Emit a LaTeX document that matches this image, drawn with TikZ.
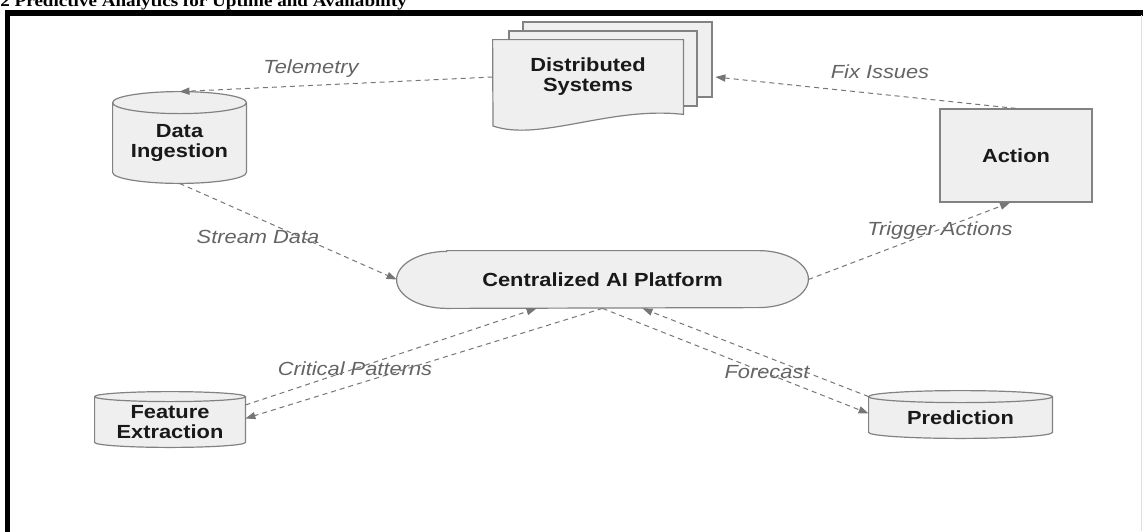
\documentclass[tikz,border=0pt]{standalone}
\usepackage{fontspec}
\usetikzlibrary{arrows.meta,calc,backgrounds}

\newfontfamily\boxfont[FakeStretch=1.15]{Liberation Sans}
\newfontfamily\titlefont[FakeStretch=1.15]{Liberation Serif}

\definecolor{boxfill}{RGB}{239,239,239}
\definecolor{boxedge}{RGB}{130,130,130}
\definecolor{flowgrey}{RGB}{118,118,118}
\definecolor{labelgrey}{RGB}{100,100,100}

\tikzset{
    box/.style={font=\boxfont\bfseries\fontsize{9.5}{10}\selectfont, align=center, inner sep=0pt, text=black!90},
    boxline/.style={draw=boxedge, fill=boxfill, line width=.6pt},
    lbl/.style={font=\boxfont\itshape\fontsize{9.5}{10}\selectfont, text=labelgrey, inner sep=0pt},
    flow/.style={draw=flowgrey, line width=.5pt, dash pattern=on 2.5pt off 2pt,
        -{Triangle[length=5pt, width=3.6pt, fill=flowgrey]}}
}

% cylinder round a node: top cap centred on its north side, bottom on its south side
% #1 node, #2 radius of the end caps
\newcommand\drawcyl[2]{%
    \draw[boxline] let \p1=(#1.north west), \p2=(#1.south east), \n1={(\x2-\x1)/2} in
        (\p1) -- (\x1,{\y2+#2}) arc[start angle=180, end angle=360, x radius=\n1, y radius=#2]
        -- (\x2,\y1) arc[start angle=0, end angle=180, x radius=\n1, y radius=#2] -- cycle
        (\p1) arc[start angle=180, end angle=360, x radius=\n1, y radius=#2];
}

\begin{document}
\begin{tikzpicture}[x=0.5pt, y=-0.5pt]

    \useasboundingbox (0,0) rectangle (1143,531);

    \node[anchor=base west, inner sep=0pt, font=\titlefont\bfseries\fontsize{8.3}{10}\selectfont]
        (title) at (0,6.5) {2 Predictive Analytics for Uptime and Availability};
    \draw[line width=2.7pt] (7.5,545) -- (7.5,13) -- (1150,13);
    \draw[black!12, line width=.5pt] (1141,15) -- (1141,531);

    \node[box, minimum width=95pt, minimum height=37pt] (dist) at (588,77) {Distributed\\Systems};
    \node[box, minimum width=66.5pt, minimum height=40pt] (ingest) at (179.5,143) {Data\\Ingestion};
    \node[box, boxline, minimum width=76pt, minimum height=46.5pt] (act) at (1016,155.5) {Action};
    \node[box, minimum width=205.5pt, minimum height=28.5pt] (ai) at (602.5,279.5) {Centralized AI Platform};
    \node[box, minimum width=75pt, minimum height=25pt] (feat) at (170,422) {Feature\\Extraction};
    \node[box, minimum width=91.5pt, minimum height=20.5pt] (pred) at (960.5,417.5) {Prediction};

    \begin{scope}[on background layer]
        \draw[boxline] (523,22) rectangle (712,97);
        \draw[boxline] (509,31) rectangle (697,106);
        \draw[boxline] (dist.north west) -- (493,126) .. controls (540,142) and (610,106) .. (dist.south east)
            -- (dist.north east) -- cycle;
        \drawcyl{ingest}{5.5pt}
        \drawcyl{feat}{2.5pt}
        \drawcyl{pred}{3pt}
        \draw[boxline] ([xshift=25pt]ai.north west) -- ([xshift=-25pt]ai.north east)
            arc[start angle=90, end angle=-90, x radius=25pt, y radius=14.25pt]
            -- ([xshift=25pt]ai.south west)
            arc[start angle=270, end angle=90, x radius=25pt, y radius=14.25pt] -- cycle;
    \end{scope}

    \foreach \nm/\x/\y/\txt in {telemetry/311/69/Telemetry, fix/880/72/Fix Issues,
        stream/258/237/Stream Data, trigger/940/231/Trigger Actions,
        critical/355/369/Critical Patterns, forecast/767/372/Forecast} {
        \node[lbl] (\nm) at (\x,\y) {\txt};
    }

    \draw[flow] (dist.west) -- ([yshift=5.5pt]ingest.north);
    \draw[flow] (act.north) -- ([xshift=16pt]dist.east);
    \draw[flow] (ingest.south) -- (ai.west);
    \draw[flow] (ai.east) -- ([xshift=-3pt]act.south);
    \draw[flow] (ai.south) -- ([yshift=1.75pt]feat.east);
    \draw[flow] ([yshift=8.5pt]feat.east) -- ([xshift=-33pt]ai.south);
    \draw[flow] (ai.south) -- ([yshift=2pt]pred.west);
    \draw[flow] (pred.north west) -- ([xshift=20pt]ai.south);

\end{tikzpicture}
\end{document}
